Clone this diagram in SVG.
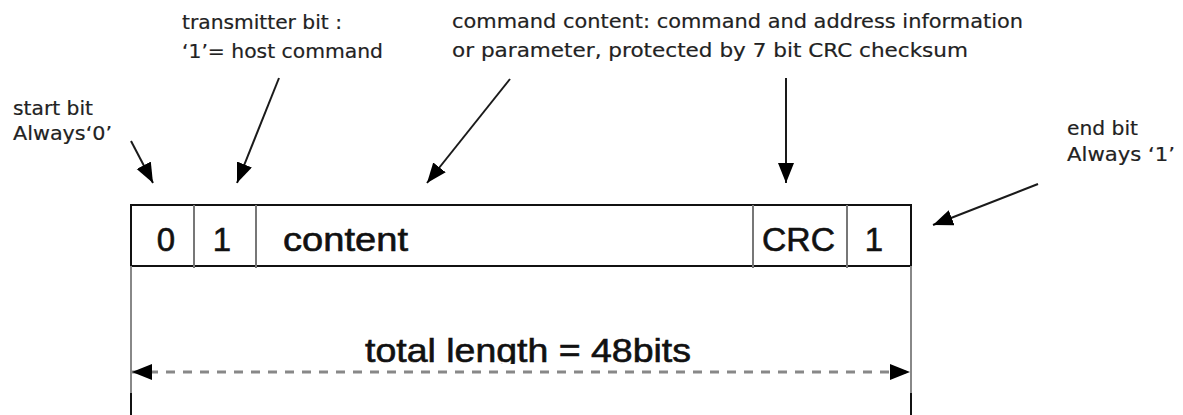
<svg xmlns="http://www.w3.org/2000/svg" width="1183" height="415" viewBox="0 0 1183 415">
<style>
.small{font-family:"DejaVu Sans","Liberation Sans",sans-serif;font-size:20px;fill:#222;stroke:#222;stroke-width:0.2}
.big{font-family:"Liberation Sans",Arial,sans-serif;font-size:33px;fill:#111;stroke:#111;stroke-width:0.6}
.ann{stroke:#1a1a1a;stroke-width:2;fill:none}
.box{stroke:#111;stroke-width:2;fill:#fff}
.div{stroke:#777;stroke-width:2}
</style>
<defs>
<marker id="ah" markerUnits="userSpaceOnUse" markerWidth="22" markerHeight="18" refX="20" refY="8" orient="auto-start-reverse">
<path d="M0,0 L20,8 L0,16 z" fill="#000"/>
</marker>
<clipPath id="clipTotal"><rect x="0" y="0" width="1183" height="364"/></clipPath>
</defs>
<rect width="1183" height="415" fill="#fff"/>

<g id="label-start">
<text class="small" x="13" y="115" textLength="80" lengthAdjust="spacingAndGlyphs">start bit</text>
<text class="small" x="13" y="140" textLength="99" lengthAdjust="spacingAndGlyphs">Always‘0’</text>
</g>
<g id="label-transmitter">
<text class="small" x="182" y="29" textLength="160" lengthAdjust="spacingAndGlyphs">transmitter bit :</text>
<text class="small" x="182" y="58" textLength="201" lengthAdjust="spacingAndGlyphs">‘1’= host command</text>
</g>
<g id="label-content">
<text class="small" x="452" y="28" textLength="571" lengthAdjust="spacingAndGlyphs">command content: command and address information</text>
<text class="small" x="452" y="57" textLength="516" lengthAdjust="spacingAndGlyphs">or parameter, protected by 7 bit CRC checksum</text>
</g>
<g id="label-end">
<text class="small" x="1067" y="135" textLength="71" lengthAdjust="spacingAndGlyphs">end bit</text>
<text class="small" x="1067" y="161" textLength="108" lengthAdjust="spacingAndGlyphs">Always ‘1’</text>
</g>

<g id="frame">
<rect class="box" x="131" y="205" width="780" height="61"/>
<line class="div" x1="194" y1="205" x2="194" y2="268"/>
<line class="div" x1="256" y1="205" x2="256" y2="268"/>
<line class="div" x1="753" y1="205" x2="753" y2="268"/>
<line class="div" x1="847" y1="205" x2="847" y2="268"/>
<text class="big" x="166" y="251" text-anchor="middle">0</text>
<text class="big" x="222" y="251" text-anchor="middle">1</text>
<text class="big" x="283" y="251" textLength="125" lengthAdjust="spacingAndGlyphs">content</text>
<text class="big" x="762" y="251" textLength="73" lengthAdjust="spacingAndGlyphs">CRC</text>
<text class="big" x="874" y="251" text-anchor="middle">1</text>
</g>

<g id="dimension">
<line x1="131" y1="266" x2="131" y2="393" stroke="#888" stroke-width="2"/>
<line x1="131" y1="393" x2="131" y2="415" stroke="#111" stroke-width="2"/>
<line x1="911" y1="266" x2="911" y2="393" stroke="#888" stroke-width="2"/>
<line x1="911" y1="393" x2="911" y2="415" stroke="#111" stroke-width="2"/>
<text class="big" x="365" y="362" textLength="326" lengthAdjust="spacingAndGlyphs" clip-path="url(#clipTotal)">total length = 48bits</text>
</g>

<g id="connectors">
<line class="ann" x1="131" y1="141" x2="153" y2="183" marker-end="url(#ah)"/>
<line class="ann" x1="279" y1="78" x2="237" y2="183" marker-end="url(#ah)"/>
<line class="ann" x1="510" y1="79" x2="427" y2="183" marker-end="url(#ah)"/>
<line class="ann" x1="786" y1="78" x2="786" y2="183" marker-end="url(#ah)"/>
<line class="ann" x1="1038" y1="184" x2="933" y2="225" marker-end="url(#ah)"/>
<line x1="132" y1="372" x2="910" y2="372" stroke="#888" stroke-width="3" stroke-dasharray="9,8" marker-start="url(#ah)" marker-end="url(#ah)"/>
</g>
</svg>
